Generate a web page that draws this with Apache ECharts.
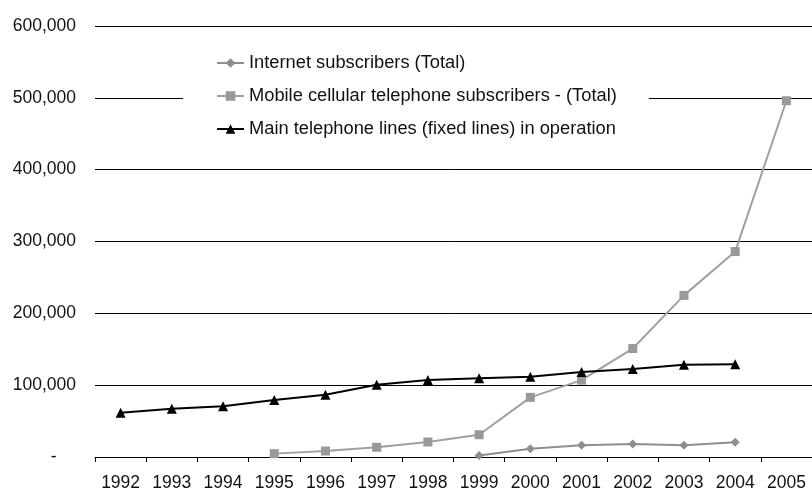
<!DOCTYPE html>
<html>
<head>
<meta charset="utf-8">
<script src="https://cdn.jsdelivr.net/npm/echarts@6/dist/echarts.min.js"></script>
<style>
  html, body { margin: 0; padding: 0; background: #fff; }
  #chart { width: 812px; height: 492px; }
</style>
</head>
<body>
<div id="chart"></div>
<script>
var years = ['1992', '1993', '1994', '1995', '1996', '1997', '1998', '1999', '2000', '2001', '2002', '2003', '2004', '2005'];
var internetSubs = [null, null, null, null, null, null, null, 2000, 11500, 16300, 18100, 16300, 20400, null];
var mobileSubs = [null, null, null, 4700, 8300, 13500, 20900, 31000, 83000, 107000, 151000, 225000, 286000, 496000];
var mainLines = [61700, 67300, 70500, 79300, 86800, 100700, 107100, 109500, 111800, 118200, 122400, 128500, 129000, null];
var yTicks = [0, 100000, 200000, 300000, 400000, 500000, 600000];

var font = 'Liberation Sans, Arial, sans-serif';

var myChart = echarts.init(document.getElementById('chart'));
myChart.setOption({
  animation: false,
  backgroundColor: '#fff',
  grid: { left: 95, top: 26, width: 723, height: 431.7 },
  legend: {
    orient: 'vertical',
    left: 183,
    top: 41,
    backgroundColor: '#fff',
    padding: [13, 32, 11, 33],
    itemWidth: 27,
    itemHeight: 12,
    itemGap: 15,
    textStyle: { fontFamily: font, fontSize: 18.3, color: '#111' },
    data: ['Internet subscribers (Total)', 'Mobile cellular telephone subscribers - (Total)', 'Main telephone lines (fixed lines) in operation']
  },
  xAxis: {
    type: 'category',
    data: years,
    boundaryGap: true,
    axisLine: { lineStyle: { color: '#000', width: 1 } },
    axisTick: { show: true, length: 5, lineStyle: { color: '#000' } },
    axisLabel: { fontFamily: font, fontSize: 17.5, color: '#111', margin: 17, interval: 0 },
    splitLine: { show: false }
  },
  yAxis: {
    type: 'value',
    min: yTicks[0],
    max: yTicks[yTicks.length - 1],
    interval: 100000,
    axisLine: { show: false },
    axisTick: { show: false },
    axisLabel: {
      fontFamily: font, fontSize: 17.5, color: '#111', margin: 19,
      formatter: function (v) {
        if (v === 0) return '-\u00a0\u00a0\u00a0\u00a0';
        return v.toLocaleString('en-US');
      }
    },
    splitLine: { lineStyle: { color: '#000', width: 1 } }
  },
  series: [
    {
      name: 'Internet subscribers (Total)',
      type: 'line',
      data: internetSubs,
      symbol: 'diamond',
      symbolSize: 9,
      lineStyle: { color: '#8e8e8e', width: 2 },
      itemStyle: { color: '#8e8e8e' },
      z: 3
    },
    {
      name: 'Mobile cellular telephone subscribers - (Total)',
      type: 'line',
      data: mobileSubs,
      symbol: 'rect',
      symbolSize: 9,
      lineStyle: { color: '#a0a0a0', width: 2 },
      itemStyle: { color: '#999' },
      z: 3
    },
    {
      name: 'Main telephone lines (fixed lines) in operation',
      type: 'line',
      data: mainLines,
      symbol: 'triangle',
      symbolSize: 10,
      lineStyle: { color: '#000', width: 2 },
      itemStyle: { color: '#000' },
      z: 4
    }
  ]
});
</script>
</body>
</html>
